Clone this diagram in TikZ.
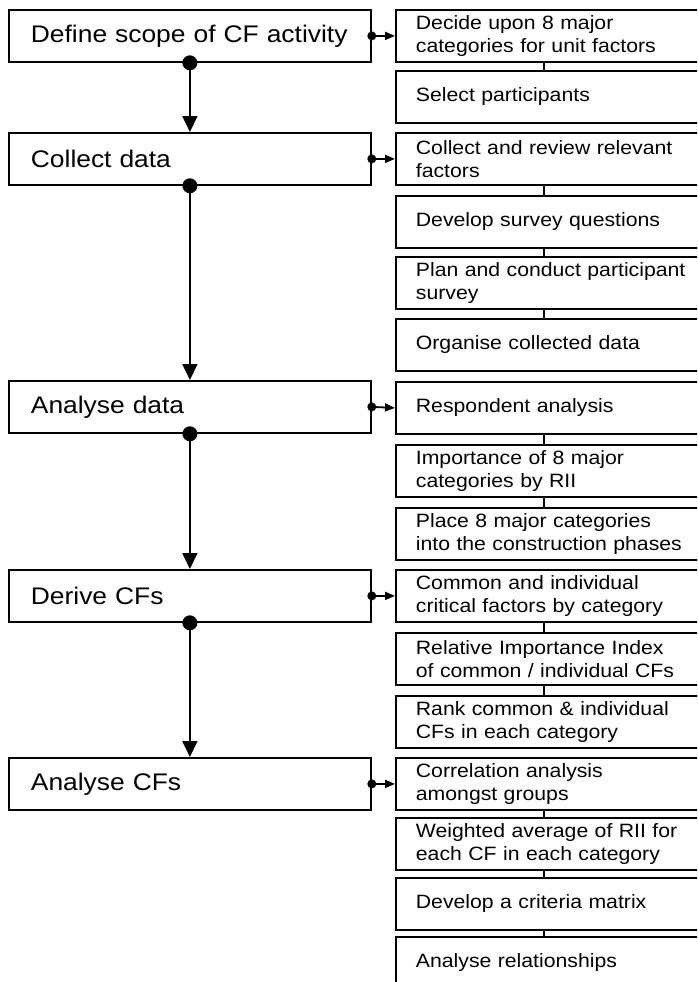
\documentclass[tikz,border=0pt]{standalone}
\usepackage{fontspec}
\setmainfont[FakeStretch=1.1]{Liberation Sans}
\usetikzlibrary{arrows.meta}

\tikzset{
	phase/.style={draw,line width=1.8pt,anchor=north west,align=left,
		minimum width=362pt,minimum height=52pt,inner xsep=22pt,inner ysep=2pt,
		text width=318pt,font=\fontsize{24}{28}\selectfont},
	task/.style={draw,line width=1.8pt,anchor=north west,align=left,
		minimum height=52pt,inner xsep=20pt,inner ysep=2pt,
		text width=290pt,font=\fontsize{19.3}{23.5}\selectfont},
	down/.style={line width=1.8pt,-{Triangle[width=15pt,length=16pt]}},
	side/.style={line width=1.8pt,-{Triangle[width=8pt,length=10pt]}},
	link/.style={line width=1.8pt}
}

\begin{document}
\begin{tikzpicture}[x=1pt,y=-1pt]
			\useasboundingbox (0,0) rectangle (697,982);
			\clip (0,0) rectangle (697,982);

			% phases
			\node[phase] (define) at (8,9) {Define scope of CF activity};
			\node[phase] (collect) at (8,132) {Collect data};
			\node[phase] (analyse) at (8,380) {Analyse data};
			\node[phase] (derive) at (8,569) {Derive CFs};
			\node[phase] (analysecf) at (8,757) {Analyse CFs};

			% phase to phase
			\draw[down] (define.south) -- (collect.north);
			\fill (define.south) circle (7.5pt);
			\draw[down] (collect.south) -- (analyse.north);
			\fill (collect.south) circle (7.5pt);
			\draw[down] (analyse.south) -- (derive.north);
			\fill (analyse.south) circle (7.5pt);
			\draw[down] (derive.south) -- (analysecf.north);
			\fill (derive.south) circle (7.5pt);

			% Define scope
			\node[task] (decide) at (395,9) {Decide upon 8 major\\categories for unit factors};
			\node[task] (select) at (395,70) {Select participants};
			\draw[side] (define.east) -- (decide.west);
			\fill (define.east) circle (4.5pt);
			\draw[link] ([xshift=-17pt]decide.south) -- ([xshift=-17pt]select.north);

			% Collect data
			\node[task] (review) at (395,132) {Collect and review relevant\\factors};
			\node[task] (questions) at (395,195) {Develop survey questions};
			\node[task] (survey) at (395,256) {Plan and conduct participant\\survey};
			\node[task] (organise) at (395,318) {Organise collected data};
			\draw[side] (collect.east) -- (review.west);
			\fill (collect.east) circle (4.5pt);
			\draw[link] ([xshift=-17pt]review.south) -- ([xshift=-17pt]questions.north);
			\draw[link] ([xshift=-17pt]questions.south) -- ([xshift=-17pt]survey.north);
			\draw[link] ([xshift=-17pt]survey.south) -- ([xshift=-17pt]organise.north);

			% Analyse data
			\node[task] (respondent) at (395,381) {Respondent analysis};
			\node[task] (importance) at (395,444) {Importance of 8 major\\categories by RII};
			\node[task] (place) at (395,507) {Place 8 major categories\\into the construction phases};
			\draw[side] (analyse.east) -- (respondent.west);
			\fill (analyse.east) circle (4.5pt);
			\draw[link] ([xshift=-17pt]respondent.south) -- ([xshift=-17pt]importance.north);
			\draw[link] ([xshift=-17pt]importance.south) -- ([xshift=-17pt]place.north);

			% Derive CFs
			\node[task] (common) at (395,569) {Common and individual\\critical factors by category};
			\node[task] (relative) at (395,632) {Relative Importance Index\\of common / individual CFs};
			\node[task] (rank) at (395,695) {Rank common \& individual\\CFs in each category};
			\draw[side] (derive.east) -- (common.west);
			\fill (derive.east) circle (4.5pt);
			\draw[link] ([xshift=-17pt]common.south) -- ([xshift=-17pt]relative.north);
			\draw[link] ([xshift=-17pt]relative.south) -- ([xshift=-17pt]rank.north);

			% Analyse CFs
			\node[task] (correlation) at (395,757) {Correlation analysis\\amongst groups};
			\node[task] (weighted) at (395,817) {Weighted average of RII for\\each CF in each category};
			\node[task] (matrix) at (395,877) {Develop a criteria matrix};
			\node[task] (relations) at (395,936) {Analyse relationships};
			\draw[side] (analysecf.east) -- (correlation.west);
			\fill (analysecf.east) circle (4.5pt);
			\draw[link] ([xshift=-17pt]correlation.south) -- ([xshift=-17pt]weighted.north);
			\draw[link] ([xshift=-17pt]weighted.south) -- ([xshift=-17pt]matrix.north);
			\draw[link] ([xshift=-17pt]matrix.south) -- ([xshift=-17pt]relations.north);
		\end{tikzpicture}
\end{document}
